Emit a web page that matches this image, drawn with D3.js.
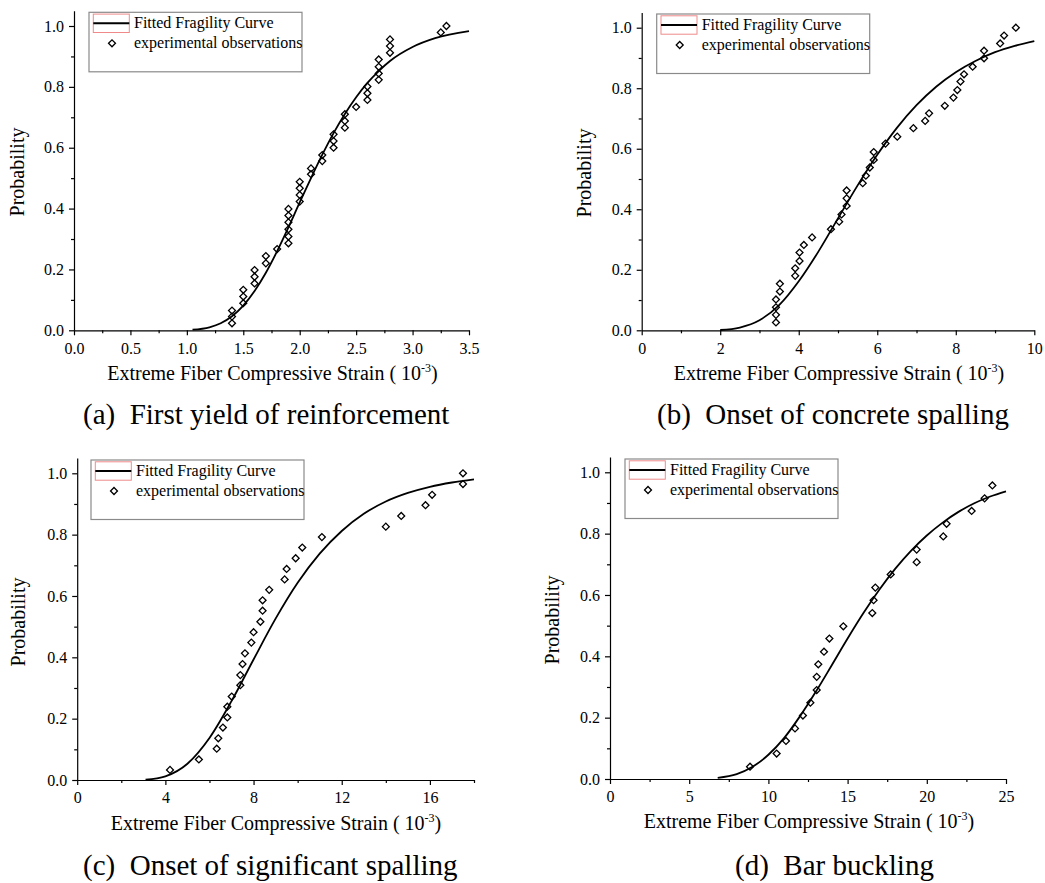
<!DOCTYPE html>
<html><head><meta charset="utf-8">
<script src="https://cdn.jsdelivr.net/npm/d3@7"></script>
<style>
body{margin:0;background:#fff}
svg text{font-family:"Liberation Serif","Times New Roman",serif;fill:#000}
</style>
</head><body>
<svg id="chart" width="1045" height="883"></svg>
<script>
// ---------- data ----------
const yTicks = [0, 0.2, 0.4, 0.6, 0.8, 1.0];
const yMinor = [0.1, 0.3, 0.5, 0.7, 0.9];

const xTicksA = [0, 0.5, 1.0, 1.5, 2.0, 2.5, 3.0, 3.5];
const xMinorA = [0.25, 0.75, 1.25, 1.75, 2.25, 2.75, 3.25];
const xTicksB = [0, 2, 4, 6, 8, 10];
const xMinorB = [1, 3, 5, 7, 9];
const xTicksC = [0, 4, 8, 12, 16];
const xMinorC = [2, 6, 10, 14, 18];
const xTicksD = [0, 5, 10, 15, 20, 25];
const xMinorD = [2.5, 7.5, 12.5, 17.5, 22.5];

const obsA = [[1.4,0.023],[1.4,0.045],[1.4,0.065],[1.5,0.089],[1.5,0.111],[1.5,0.133],
  [1.6,0.154],[1.6,0.176],[1.6,0.198],[1.7,0.220],[1.7,0.244],[1.8,0.267],
  [1.9,0.286],[1.9,0.308],[1.9,0.332],[1.9,0.355],[1.9,0.377],[1.9,0.399],
  [2.0,0.423],[2.0,0.445],[2.0,0.467],[2.0,0.488],[2.1,0.513],[2.1,0.532],
  [2.2,0.556],[2.2,0.576],[2.3,0.600],[2.3,0.622],[2.3,0.644],[2.4,0.666],[2.4,0.688],[2.4,0.710],
  [2.5,0.734],[2.6,0.757],[2.6,0.779],[2.6,0.801],[2.7,0.823],[2.7,0.844],[2.7,0.866],[2.7,0.890],
  [2.8,0.912],[2.8,0.934],[2.8,0.956],[3.25,0.979],[3.3,1.0]];
const curveA = [[1.05,0.002],[1.2,0.010],[1.3,0.023],[1.4,0.046],[1.5,0.081],[1.6,0.129],[1.7,0.189],
  [1.8,0.260],[1.9,0.338],[2.0,0.420],[2.1,0.500],[2.2,0.577],[2.3,0.648],[2.4,0.711],[2.5,0.766],
  [2.6,0.813],[2.7,0.852],[2.8,0.885],[3.0,0.931],[3.2,0.960],[3.5,0.983]];

const obsB = [[3.42,0.026],[3.42,0.051],[3.42,0.076],[3.42,0.102],[3.52,0.128],[3.52,0.154],
  [3.91,0.180],[3.91,0.205],[4.02,0.229],[4.02,0.257],[4.13,0.282],[4.34,0.307],[4.82,0.334],
  [5.03,0.359],[5.09,0.383],[5.22,0.411],[5.22,0.436],[5.22,0.462],[5.63,0.486],[5.71,0.511],
  [5.81,0.538],[5.91,0.563],[5.91,0.589],[6.21,0.617],[6.51,0.640],[6.92,0.668],[7.22,0.692],
  [7.32,0.717],[7.72,0.742],[7.94,0.769],[8.04,0.794],[8.12,0.822],[8.21,0.846],[8.43,0.871],
  [8.72,0.899],[8.72,0.924],[9.13,0.948],[9.23,0.974],[9.53,1.0]];
const curveB = [[2.0,0.001],[2.5,0.009],[3.0,0.033],[3.5,0.083],[4.0,0.162],[4.5,0.260],[5.0,0.370],
  [5.5,0.479],[6.0,0.580],[6.5,0.669],[7.0,0.744],[7.5,0.805],[8.0,0.853],[8.5,0.890],[9.0,0.919],
  [9.5,0.940],[10,0.956]];

const obsC = [[4.21,0.033],[5.52,0.067],[6.33,0.102],[6.40,0.136],[6.61,0.171],[6.81,0.204],
  [6.81,0.239],[7.01,0.272],[7.40,0.309],[7.40,0.342],[7.50,0.378],[7.61,0.413],[7.90,0.448],
  [8.00,0.482],[8.31,0.516],[8.41,0.552],[8.41,0.586],[8.71,0.620],[9.41,0.654],[9.50,0.688],
  [9.91,0.723],[10.21,0.758],[11.1,0.792],[14.0,0.826],[14.7,0.861],[15.8,0.896],[16.1,0.930],
  [17.5,0.965],[17.5,1.0]];
const curveC = [[3.1,0.001],[4,0.012],[5,0.053],[6,0.137],[7,0.257],[8,0.393],[9,0.526],[10,0.643],
  [11,0.738],[12,0.812],[13,0.868],[14,0.908],[15,0.936],[16,0.956],[17,0.970],[18,0.980]];

const obsD = [[8.84,0.040],[10.52,0.083],[11.11,0.124],[11.68,0.165],[12.18,0.207],[12.65,0.249],
  [13.05,0.290],[13.05,0.333],[13.15,0.374],[13.51,0.415],[13.85,0.458],[14.73,0.498],
  [16.56,0.541],[16.64,0.583],[16.75,0.624],[17.72,0.667],[19.36,0.707],[19.36,0.748],
  [21.04,0.791],[21.25,0.832],[22.83,0.874],[23.65,0.915],[24.14,0.957]];
const curveD = [[6.8,0.004],[8,0.016],[9,0.040],[10,0.079],[11,0.134],[12,0.205],[13,0.285],[14,0.371],
  [15,0.458],[16,0.541],[17,0.617],[18,0.685],[19,0.744],[20,0.794],[21,0.836],[22,0.871],[23,0.899],
  [24,0.921],[25,0.938]];

const legendLabels = ["Fitted Fragility Curve", "experimental observations"];
const yTitle = "Probability";
const xTitle = "Extreme Fiber Compressive Strain ( 10";
const xTitleSup = "-3";
const captions = ["(a)  First yield of reinforcement", "(b)  Onset of concrete spalling",
  "(c)  Onset of significant spalling", "(d)  Bar buckling"];

// ---------- layout ----------
const panels = [
  {left:74, right:469, y0:330.3, y1:26.0, xMax:3.5, ticks:xTicksA, minor:xMinorA, fmt:".1f",
   obs:obsA, curve:curveA, leg:[89,12.3], cap:captions[0], capX:83, capY:424,
   yLabX:24, yLabY:172, xLabX:272.5, xLabY:380},
  {left:641.7, right:1034.3, y0:330.3, y1:27.7, xMax:10, ticks:xTicksB, minor:xMinorB, fmt:"d",
   obs:obsB, curve:curveB, leg:[656.7,14], cap:captions[1], capX:657, capY:424,
   yLabX:591, yLabY:173, xLabX:839, xLabY:380},
  {left:77.2, right:474, y0:780, y1:473.3, xMax:18, ticks:xTicksC, minor:xMinorC, fmt:"d",
   obs:obsC, curve:curveC, leg:[91,460], cap:captions[2], capX:83, capY:875,
   yLabX:25, yLabY:622, xLabX:276, xLabY:830},
  {left:610, right:1006, y0:779, y1:472.3, xMax:25, ticks:xTicksD, minor:xMinorD, fmt:"d",
   obs:obsD, curve:curveD, leg:[625,459], cap:captions[3], capX:735, capY:875,
   yLabX:559, yLabY:620, xLabX:809, xLabY:828}
];

const svg = d3.select("#chart");
const diamond = d3.symbol().type(d3.symbolSquare).size(24);

panels.forEach(p => {
  const x = d3.scaleLinear().domain([0, p.xMax]).range([p.left, p.right]);
  const yTop = p.y0 - 1.05 * (p.y0 - p.y1);
  const y = d3.scaleLinear().domain([0, 1.05]).range([p.y0, yTop]);
  const g = svg.append("g");

  // minor ticks
  g.append("g").attr("transform", `translate(0,${p.y0})`)
    .call(d3.axisBottom(x).tickValues(p.minor).tickSize(3).tickSizeOuter(0).tickFormat(""))
    .call(s => s.select(".domain").remove())
    .call(s => s.selectAll("line").attr("stroke", "#000").attr("stroke-width", 1.2));
  g.append("g").attr("transform", `translate(${p.left},0)`)
    .call(d3.axisLeft(y).tickValues(yMinor).tickSize(3).tickSizeOuter(0).tickFormat(""))
    .call(s => s.select(".domain").remove())
    .call(s => s.selectAll("line").attr("stroke", "#000").attr("stroke-width", 1.2));

  // major axes
  const xa = g.append("g").attr("transform", `translate(0,${p.y0})`)
    .call(d3.axisBottom(x).tickValues(p.ticks).tickSize(5).tickPadding(7).tickSizeOuter(0)
      .tickFormat(d3.format(p.fmt)));
  const ya = g.append("g").attr("transform", `translate(${p.left},0)`)
    .call(d3.axisLeft(y).tickValues(yTicks).tickSize(5).tickPadding(5).tickSizeOuter(0)
      .tickFormat(d3.format(".1f")));
  [xa, ya].forEach(a => {
    a.selectAll("text").style("font-size", "16px").attr("fill", "#000")
      .style("font-family", '"Liberation Serif","Times New Roman",serif');
    a.selectAll("line,path").attr("stroke", "#000").attr("stroke-width", 1.2);
  });

  // fitted curve
  g.append("path").datum(p.curve)
    .attr("fill", "none").attr("stroke", "#000").attr("stroke-width", 1.8)
    .attr("d", d3.line().x(d => x(d[0])).y(d => y(d[1])).curve(d3.curveMonotoneX));

  // observations
  g.selectAll("path.obs").data(p.obs).join("path").attr("class", "obs")
    .attr("d", diamond)
    .attr("transform", d => `translate(${x(d[0])},${y(d[1])}) rotate(45)`)
    .attr("fill", "none").attr("stroke", "#000").attr("stroke-width", 1.3);

  // legend
  const [lx, ly] = p.leg;
  const lg = g.append("g").attr("transform", `translate(${lx},${ly})`);
  lg.append("rect").attr("width", 213).attr("height", 59.5)
    .attr("fill", "#fff").attr("stroke", "#8a8a8a").attr("stroke-width", 1.2);
  lg.append("rect").attr("x", 4.3).attr("y", 1.8).attr("width", 36).attr("height", 18.4)
    .attr("fill", "none").attr("stroke", "#f08a8a").attr("stroke-width", 1);
  lg.append("line").attr("x1", 4.3).attr("x2", 40.3).attr("y1", 11).attr("y2", 11)
    .attr("stroke", "#000").attr("stroke-width", 2);
  lg.append("path").attr("d", diamond).attr("transform", "translate(23,31) rotate(45)")
    .attr("fill", "none").attr("stroke", "#000").attr("stroke-width", 1.3);
  lg.append("text").attr("x", 45).attr("y", 16).style("font-size", "16px").text(legendLabels[0]);
  lg.append("text").attr("x", 45).attr("y", 36).style("font-size", "16px").text(legendLabels[1]);

  // axis titles
  g.append("text").attr("transform", `translate(${p.yLabX},${p.yLabY}) rotate(-90)`)
    .attr("text-anchor", "middle").style("font-size", "20px").text(yTitle);
  const xt = g.append("text").attr("x", p.xLabX).attr("y", p.xLabY)
    .attr("text-anchor", "middle").style("font-size", "20px");
  xt.append("tspan").text(xTitle);
  xt.append("tspan").attr("dy", -8).style("font-size", "12px").text(xTitleSup);
  xt.append("tspan").attr("dy", 8).text(")");

  // caption
  g.append("text").attr("x", p.capX).attr("y", p.capY)
    .style("font-size", "29px").style("white-space", "pre").text(p.cap);
});
</script>
</body></html>
